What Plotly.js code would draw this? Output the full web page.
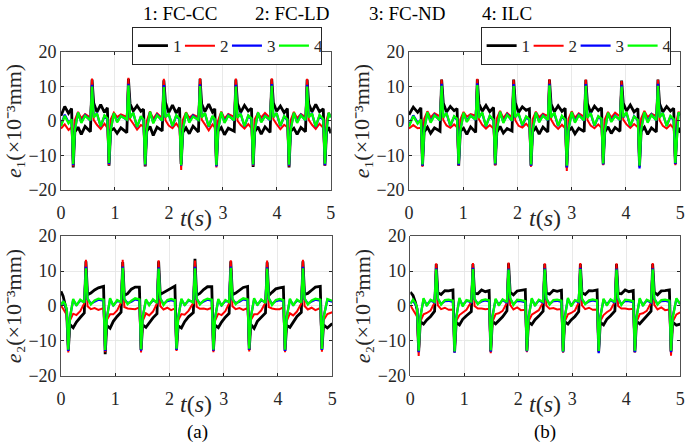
<!DOCTYPE html>
<html>
<head>
<meta charset="utf-8">
<script src="https://cdn.plot.ly/plotly-3.0.1.min.js"></script>
<style>
  html, body { margin: 0; padding: 0; background: #fff; }
  #chart { width: 685px; height: 448px; }
</style>
</head>
<body>
<div id="chart"></div>
<script>
// spike times: a = left column, b = right column
const headA1 = [0, 0.07, 0.14];
const negA1 = [0.227, 0.89, 1.56, 2.227, 2.88, 3.56, 4.225, 4.89];
const posA1 = [0.576, 1.25, 1.906, 2.577, 3.24, 3.905, 4.56];
const tailA1 = [4.92, 4.96, 5.0];

const headB1 = [0, 0.08, 0.16];
const negB1 = [0.25, 0.917, 1.59, 2.25, 2.91, 3.58, 4.25, 4.91];
const posB1 = [0.603, 1.26, 1.93, 2.59, 3.26, 3.92, 4.59];
const tailB1 = [4.94, 4.97, 5.0];

const headA2 = [0, 0.04, 0.075];
const negA2 = [0.135, 0.815, 1.476, 2.13, 2.81, 3.47, 4.13, 4.81];
const posA2 = [0.46, 1.138, 1.8, 2.47, 3.13, 3.80, 4.46];
const tailA2 = [4.84, 4.91, 5.0];

const headB2 = [0, 0.05, 0.095];
const negB2 = [0.155, 0.82, 1.49, 2.16, 2.83, 3.49, 4.16, 4.83];
const posB2 = [0.48, 1.16, 1.82, 2.49, 3.15, 3.82, 4.49];
const tailB2 = [4.86, 4.93, 5.0];

// sample points around each spike (s)
const afterNeg = [0.03, 0.09, 0.15, 0.22];
const afterPos = [0.03, 0.09, 0.16, 0.23];

// values (x10^-3 mm); rows: head, one row per cycle
// [N-.03, N, N+.03, N+.09, N+.15, N+.22, P-.03, P, P+.03, P+.09, P+.16, P+.23], last cycle
const e1aBlack = [
  [1.5, 4.2, 2.2],
  [3.6, -13.5, -3.2, -1.8, -3.9, -1.6, -3.1, 12, 5.2, 2.6, 4.7, 2.5],
  [3.8, -13, -2.8, -2.2, -3.6, -2, -3.4, 12.2, 5, 2.9, 4.4, 2.8],
  [3.4, -13.2, -3, -1.6, -4.2, -1.8, -2.9, 11.8, 5.4, 2.4, 4.6, 2.3],
  [3.9, -12.5, -3.3, -2, -3.7, -1.5, -3.2, 12.2, 4.9, 2.7, 4.9, 2.6],
  [3.5, -13, -2.9, -1.9, -4, -2.1, -3, 12, 5.1, 2.5, 4.5, 2.9],
  [3.7, -13.3, -3.1, -1.7, -3.8, -1.7, -3.3, 12.1, 5.3, 2.8, 4.3, 2.4],
  [3.6, -13.5, -3, -2.1, -3.9, -1.9, -3.1, 12, 5, 2.6, 4.8, 2.7],
  [3.5, -13, -3.1, -1.8, -3.6]
];
const e1aRed = [
  [-2.2, -1, -2.6],
  [-1.8, -13.2, 0.2, 2.6, 0.8, 2, 1, 12.3, 0.3, -1.1, -2.3, -0.8],
  [-2, -12.8, 0.4, 2.4, 1.1, 1.9, 1.2, 12.5, 0.5, -0.8, -2.5, -1.2],
  [-1.6, -13, 0, 2.8, 0.6, 2.2, 0.8, 12.2, 0.2, -1.3, -2.1, -0.7],
  [-2.2, -14.2, 0.3, 2.5, 0.9, 1.8, 1.1, 12.4, 0.4, -1, -2.7, -1],
  [-1.9, -13.5, 0.1, 2.7, 0.7, 2, 1.2, 12.3, 0.1, -1.2, -2.2, -0.9],
  [-2.1, -13, 0.5, 2.3, 1, 2.3, 0.9, 12.4, 0.5, -0.9, -2.4, -1.1],
  [-1.8, -13.2, 0.2, 2.6, 0.8, 2, 1.1, 12.2, 0.3, -1.1, -2.3, -0.8],
  [-2, -13, 0.3, 2.4, 1.3]
];
const e1aBlue = [
  [-1.2, 1.8, -0.4],
  [0.3, -12.8, -2.4, 2.3, -0.3, 1.7, 0.1, 10.5, 1.3, 2.1, -1.6, 1.4],
  [0.5, -12.5, -2.6, 2.1, -0.1, 1.5, 0.3, 10.8, 1.1, 2.3, -1.8, 1.2],
  [0.2, -12.8, -2.3, 2.5, -0.4, 1.8, 0, 10.4, 1.4, 1.9, -1.5, 1.5],
  [0.4, -13, -2.5, 2.2, -0.2, 1.6, 0.2, 10.6, 1.2, 2.2, -1.7, 1.3],
  [0.3, -13.2, -2.4, 2.4, -0.3, 1.7, 0.1, 10.5, 1.3, 2, -1.6, 1.4],
  [0.5, -12.8, -2.6, 2.3, -0.2, 1.5, 0.2, 10.7, 1.2, 2.2, -1.5, 1.3],
  [0.2, -13, -2.3, 2.2, -0.3, 1.8, 0.1, 10.5, 1.4, 2.1, -1.7, 1.5],
  [0.3, -12.8, -2.4, 2.2, 1.1]
];
const e1aGreen = [
  [-1.5, 1.5, -0.7],
  [0.5, -12.5, -2.8, 2.5, -0.6, 1.5, 0.2, 10, 1, 2.2, -1.5, 1.6],
  [0.7, -12.2, -2.9, 2.3, -0.4, 1.4, 0.4, 10.3, 0.9, 2.4, -1.7, 1.4],
  [0.4, -12.6, -2.7, 2.7, -0.7, 1.6, 0.1, 9.8, 1.1, 2, -1.4, 1.7],
  [0.6, -12.8, -2.8, 2.4, -0.5, 1.3, 0.3, 10.1, 1, 2.3, -1.6, 1.5],
  [0.5, -12.8, -2.9, 2.6, -0.6, 1.5, 0.2, 10, 0.9, 2.1, -1.5, 1.6],
  [0.7, -12.6, -2.7, 2.5, -0.4, 1.4, 0.3, 10.2, 1.1, 2.3, -1.4, 1.4],
  [0.4, -12.7, -2.8, 2.4, -0.6, 1.6, 0.2, 10, 1, 2.2, -1.6, 1.7],
  [0.5, -12.4, -2.8, 2.4, 1]
];

const e1bBlack = [
  [1.8, 4, 2.5],
  [3.8, -13, -3.2, -1.8, -3.6, -2, -3, 12, 5.2, 2.6, 4.2, 3],
  [3.6, -13, -3, -2.1, -3.9, -1.7, -3.3, 12.1, 5, 2.8, 4.5, 2.7],
  [3.9, -12.8, -3.3, -1.6, -3.5, -2.2, -2.9, 12, 5.3, 2.5, 4.1, 3.1],
  [3.5, -13, -3.1, -1.9, -3.8, -1.8, -3.2, 12, 4.9, 2.7, 4.4, 2.8],
  [3.7, -13.5, -2.9, -2, -3.7, -2.1, -3.1, 11.9, 5.1, 2.4, 4.3, 3],
  [3.8, -12.6, -3.2, -1.7, -3.6, -1.9, -3, 11.7, 5.2, 2.9, 4.6, 2.6],
  [3.6, -13.2, -3, -1.8, -3.9, -2, -3.2, 12, 5, 2.6, 4.2, 2.9],
  [3.7, -12.5, -3.1, -2, -3.4]
];
const e1bRed = [
  [-2.2, -1.2, -2.1],
  [-2, -13.3, 0.6, 2.8, 1, 2.2, 1.3, 12, 0.3, -1.3, -2, -1],
  [-1.8, -13, 0.4, 2.6, 1.2, 2, 1.5, 12.2, 0.5, -1.1, -2.2, -1.2],
  [-2.2, -12.9, 0.7, 2.9, 0.8, 2.3, 1.1, 11.9, 0.2, -1.4, -1.9, -0.8],
  [-1.9, -13.3, 0.5, 2.7, 1.1, 2.1, 1.4, 12.1, 0.4, -1.2, -2.3, -1.1],
  [-2.1, -14.5, 0.6, 2.8, 0.9, 2.2, 1.2, 12, 0.3, -1.3, -2.1, -1],
  [-2, -12.8, 0.4, 2.6, 1, 2.4, 1.3, 11.6, 0.4, -1, -2, -0.9],
  [-1.8, -13.2, 0.7, 2.9, 1.1, 2.1, 1.4, 11.9, 0.2, -1.4, -2.2, -1.1],
  [-2.1, -12.8, 0.5, 2.7, 1.8]
];
const e1bBlue = [
  [-1.3, 1.6, -0.5],
  [0.2, -13, -2.4, 2.4, -0.2, 1.8, 0.1, 10.8, 1.3, 2.1, -1.4, 1.2],
  [0.4, -12.8, -2.6, 2.2, 0, 1.6, 0.3, 10.9, 1.1, 2.3, -1.6, 1.4],
  [0.1, -12.6, -2.3, 2.5, -0.3, 1.9, 0, 10.7, 1.4, 2, -1.3, 1.1],
  [0.3, -13, -2.5, 2.3, -0.1, 1.7, 0.2, 10.8, 1.2, 2.2, -1.5, 1.3],
  [0.2, -13.5, -2.4, 2.4, -0.2, 1.8, 0.1, 10.7, 1.3, 2.1, -1.4, 1.2],
  [0.4, -12.6, -2.6, 2.2, 0, 1.6, 0.2, 10.5, 1.1, 2.3, -1.5, 1.4],
  [0.1, -13.8, -2.3, 2.5, -0.2, 1.9, 0.1, 10.8, 1.3, 2.1, -1.4, 1.2],
  [0.3, -12.5, -2.5, 2.3, 1.6]
];
const e1bGreen = [
  [-1.6, 1.4, -0.8],
  [0.4, -12.6, -2.8, 2.6, -0.5, 1.6, 0.2, 10.2, 1, 2.3, -1.3, 1.4],
  [0.6, -12.4, -3, 2.4, -0.3, 1.5, 0.4, 10.4, 0.9, 2.5, -1.5, 1.5],
  [0.3, -12.3, -2.7, 2.7, -0.6, 1.7, 0.1, 10.1, 1.1, 2.2, -1.2, 1.3],
  [0.5, -12.6, -2.9, 2.5, -0.4, 1.5, 0.3, 10.3, 1, 2.4, -1.4, 1.5],
  [0.4, -13, -2.8, 2.6, -0.5, 1.6, 0.2, 10.2, 0.9, 2.3, -1.3, 1.4],
  [0.6, -12.3, -2.9, 2.4, -0.3, 1.4, 0.3, 10, 1.1, 2.5, -1.4, 1.3],
  [0.3, -13, -2.7, 2.6, -0.5, 1.7, 0.2, 10.2, 1, 2.3, -1.5, 1.5],
  [0.5, -12.2, -2.8, 2.5, 1.8]
];

const e2aBlack = [
  [4.2, 2.8, 0.5],
  [-1.5, -12.8, -5.3, -6.2, -4.6, -3.3, -2, 12.8, 3.2, 3.7, 4.6, 5.2],
  [5.6, -13.8, -5.6, -6.4, -4.4, -3, -1.8, 12.6, 3, 3.5, 4.8, 5.4],
  [5.4, -12.6, -5.4, -6.1, -4.7, -3.4, -2.2, 12.8, 3.3, 3.8, 4.5, 5.1],
  [5.7, -12.5, -5.7, -6.3, -4.5, -3.1, -1.9, 13.5, 3.1, 3.6, 4.7, 5.5],
  [5.5, -12.8, -5.5, -6.2, -4.6, -3.2, -2.1, 12.8, 3.2, 3.7, 4.6, 5.3],
  [5.6, -12.6, -5.3, -6.4, -4.4, -3.3, -2, 12.5, 3, 3.9, 4.9, 5.2],
  [5.4, -12.8, -5.6, -6.1, -4.7, -3, -1.8, 12.8, 3.3, 3.6, 4.5, 5.4],
  [5.6, -12.5, -5.4, -6.3, -5]
];
const e2aRed = [
  [0.2, -0.8, -1.8],
  [-2.5, -13.3, -4.2, -2.2, -2.6, -1.5, 0.8, 13.2, -0.1, -0.9, -0.6, -1.1],
  [-0.6, -13.2, -4, -2.4, -2.4, -1.3, 1, 13.2, -0.3, -0.7, -0.8, -0.9],
  [-0.4, -13.3, -4.3, -2.1, -2.7, -1.6, 0.7, 13.1, 0, -1, -0.5, -1.2],
  [-0.7, -12.9, -4.1, -2.3, -2.5, -1.4, 0.9, 13, -0.2, -0.8, -0.7, -1],
  [-0.5, -13.2, -4.2, -2.2, -2.6, -1.5, 0.8, 13.1, -0.1, -0.9, -0.6, -1.1],
  [-0.6, -13, -4, -2.4, -2.4, -1.3, 1, 13, -0.3, -0.7, -0.9, -0.9],
  [-0.4, -13.2, -4.3, -2.1, -2.7, -1.6, 0.7, 13.2, 0, -1, -0.5, -1.2],
  [-0.6, -13.1, -4.1, -2.3, -1.8]
];
const e2aBlue = [
  [0.3, 1.2, 0.3],
  [-1, -12.9, -3.2, 1.7, 0.3, 1.5, 1.2, 11.2, 2, 0.7, 1.3, 1.8],
  [1.5, -12.9, -3.3, 1.9, 0.2, 1.4, 1.3, 11.3, 1.9, 0.8, 1.2, 1.9],
  [1.6, -12.8, -3.1, 1.6, 0.4, 1.6, 1.1, 11.1, 2.1, 0.6, 1.4, 1.7],
  [1.4, -12.6, -3.2, 1.8, 0.3, 1.5, 1.2, 11.2, 2, 0.7, 1.3, 1.8],
  [1.5, -12.8, -3.3, 1.7, 0.2, 1.4, 1.3, 11.3, 1.9, 0.8, 1.2, 1.9],
  [1.6, -12.5, -3.1, 1.9, 0.4, 1.6, 1.1, 11.1, 2.1, 0.6, 1.4, 1.7],
  [1.4, -12.9, -3.2, 1.8, 0.3, 1.5, 1.2, 11.2, 2, 0.7, 1.3, 1.8],
  [1.5, -12.6, -3.2, 1.7, 1.2]
];
const e2aGreen = [
  [0, 1.4, 0.6],
  [-0.8, -12.5, -3.5, 2, 0.1, 1.8, 1, 10.8, 2.2, 0.4, 1.6, 2.1],
  [1.8, -12.6, -3.6, 2.2, 0, 1.7, 1.1, 10.9, 2.1, 0.5, 1.5, 2.2],
  [1.9, -12.4, -3.4, 1.9, 0.2, 1.9, 0.9, 10.7, 2.3, 0.3, 1.7, 2],
  [1.7, -12.2, -3.5, 2.1, 0.1, 1.8, 1, 10.8, 2.2, 0.4, 1.6, 2.1],
  [1.8, -12.5, -3.6, 2, 0, 1.7, 1.1, 10.9, 2.1, 0.5, 1.5, 2.2],
  [1.9, -12.2, -3.4, 2.2, 0.2, 1.9, 0.9, 10.7, 2.3, 0.3, 1.7, 2],
  [1.7, -12.5, -3.5, 2.1, 0.1, 1.8, 1, 10.8, 2.2, 0.4, 1.6, 2.1],
  [1.8, -12.3, -3.5, 2, 1.5]
];

const e2bBlack = [
  [4, 3, 1],
  [-1, -13, -4.5, -5.2, -4, -3, -1.5, 12, 3.8, 3.3, 4.4, 4.3],
  [4.6, -13.2, -4.7, -5.4, -3.8, -2.8, -1.6, 12, 3.6, 3.5, 4.6, 4.1],
  [4.4, -13, -4.4, -5.1, -4.1, -3.1, -1.4, 12.2, 3.9, 3.2, 4.3, 4.4],
  [4.7, -12.8, -4.6, -5.3, -3.9, -2.9, -1.5, 12, 3.7, 3.4, 4.5, 4.2],
  [4.5, -13, -4.5, -5.2, -4, -3, -1.6, 12, 3.8, 3.3, 4.4, 4.3],
  [4.6, -13, -4.7, -5.4, -3.8, -2.8, -1.4, 12, 3.6, 3.5, 4.6, 4.1],
  [4.4, -13.2, -4.4, -5.1, -4.1, -3.1, -1.5, 12, 3.9, 3.2, 4.3, 4.4],
  [4.6, -13, -4.6, -5.5, -5.2]
];
const e2bRed = [
  [0.2, -1, -2],
  [-3, -14.3, -4.5, -2.4, -2, -1.3, 1, 12.2, 0.2, -0.9, -0.5, -1.1],
  [-1, -13.3, -4.3, -2.6, -1.8, -1.1, 1.2, 12.3, 0, -0.7, -0.7, -0.9],
  [-0.8, -13.5, -4.6, -2.3, -2.1, -1.4, 0.9, 12.4, 0.3, -1, -0.4, -1.2],
  [-1.1, -13.2, -4.4, -2.5, -1.9, -1.2, 1.1, 12.2, 0.1, -0.8, -0.6, -1],
  [-0.9, -13.4, -4.5, -2.4, -2, -1.3, 1, 12.3, 0.2, -0.9, -0.5, -1.1],
  [-1, -13.2, -4.3, -2.6, -1.8, -1.1, 1.2, 12.2, 0, -0.7, -0.7, -0.9],
  [-0.8, -13.3, -4.6, -2.3, -2.1, -1.4, 0.9, 12.3, 0.3, -1, -0.4, -1.2],
  [-1, -14.2, -4.5, -2.4, -1.8]
];
const e2bBlue = [
  [0.8, 1.5, 0.5],
  [-0.7, -13.2, -3.1, 1.9, 0.3, 1.6, 1, 10.8, 2, 0.6, 1.4, 1.5],
  [1.2, -13.4, -3.2, 2, 0.2, 1.5, 1.1, 10.9, 1.9, 0.7, 1.3, 1.6],
  [1.3, -13.1, -3, 1.8, 0.4, 1.7, 0.9, 10.7, 2.1, 0.5, 1.5, 1.4],
  [1.1, -13, -3.1, 1.9, 0.3, 1.6, 1, 10.8, 2, 0.6, 1.4, 1.5],
  [1.2, -13.2, -3.2, 2, 0.2, 1.5, 1.1, 10.9, 1.9, 0.7, 1.3, 1.6],
  [1.3, -13.5, -3, 1.8, 0.4, 1.7, 0.9, 10.7, 2.1, 0.5, 1.5, 1.4],
  [1.1, -13.2, -3.1, 1.9, 0.3, 1.6, 1, 10.8, 2, 0.6, 1.4, 1.5],
  [1.2, -13.2, -3.1, 1.9, 0.6]
];
const e2bGreen = [
  [0.5, 1.8, 0.8],
  [-0.5, -12.8, -3.5, 2.2, 0, 1.8, 1.2, 10.5, 2.2, 0.4, 1.7, 1.8],
  [1.5, -13, -3.6, 2.3, -0.1, 1.7, 1.3, 10.6, 2.1, 0.5, 1.6, 1.9],
  [1.6, -12.7, -3.4, 2.1, 0.1, 1.9, 1.1, 10.4, 2.3, 0.3, 1.8, 1.7],
  [1.4, -12.8, -3.5, 2.2, 0, 1.8, 1.2, 10.5, 2.2, 0.4, 1.7, 1.8],
  [1.5, -13, -3.6, 2.3, -0.1, 1.7, 1.3, 10.6, 2.1, 0.5, 1.6, 1.9],
  [1.6, -12.9, -3.4, 2.1, 0.1, 1.9, 1.1, 10.4, 2.3, 0.3, 1.8, 1.7],
  [1.4, -12.8, -3.5, 2.2, 0, 1.8, 1.2, 10.5, 2.2, 0.4, 1.7, 1.8],
  [1.5, -12.8, -3.5, 2.2, 0.5]
];

const seriesNames = ['1', '2', '3', '4'];
const methodLabels = ['1: FC-CC', '2: FC-LD', '3: FC-ND', '4: ILC'];
const panelLabels = ['(a)', '(b)'];
const yTitles = ['<i>e</i>₁(×10⁻³mm)', '<i>e</i>₂(×10⁻³mm)'];
const xTicks = [0, 1, 2, 3, 4, 5];
const yTicks = [-20, -10, 0, 10, 20];

const colors = ['#000000', '#ff0000', '#0000ff', '#00ff00'];
const widths = [2.8, 2, 2.3, 2.3];
const FONT = 'Liberation Serif';

function buildTime(head, negT, posT, tail) {
    const t = head.slice();
    negT.forEach((n, k) => {
        t.push(n - 0.03, n);
        if (k < posT.length) {
            afterNeg.forEach(d => t.push(n + d));
            const p = posT[k];
            t.push(p - 0.03, p);
            afterPos.forEach(d => t.push(p + d));
        }
    });
    return t.concat(tail);
}

const panels = [
    { t: buildTime(headA1, negA1, posA1, tailA1), ys: [e1aBlack, e1aRed, e1aBlue, e1aGreen], n: '', legend: 'legend' },
    { t: buildTime(headB1, negB1, posB1, tailB1), ys: [e1bBlack, e1bRed, e1bBlue, e1bGreen], n: '2', legend: 'legend2' },
    { t: buildTime(headA2, negA2, posA2, tailA2), ys: [e2aBlack, e2aRed, e2aBlue, e2aGreen], n: '3', legend: null },
    { t: buildTime(headB2, negB2, posB2, tailB2), ys: [e2bBlack, e2bRed, e2bBlue, e2bGreen], n: '4', legend: null }
];

let traces = [];
panels.forEach(p => {
    p.ys.forEach((rows, i) => {
        traces.push({
            x: p.t, y: rows.flat(), type: 'scatter', mode: 'lines', name: seriesNames[i],
            xaxis: 'x' + p.n, yaxis: 'y' + p.n,
            line: { color: colors[i], width: widths[i] },
            showlegend: !!p.legend, legend: p.legend || 'legend', hoverinfo: 'skip'
        });
    });
});

const axisBase = {
    showline: true, mirror: 'ticks', linecolor: '#262626', linewidth: 0.8,
    ticks: 'inside', ticklen: 3, tickcolor: '#262626',
    showgrid: true, gridcolor: '#e3e3e3', gridwidth: 0.8, zeroline: false,
    tickfont: { family: FONT, size: 18, color: '#262626' }
};
function xAxis(domain, anchor) {
    return Object.assign({}, axisBase, {
        domain: domain, anchor: anchor, range: [0, 5], tickmode: 'array', tickvals: xTicks,
        ticklabelstandoff: 7
    });
}
function yAxis(domain, anchor, title) {
    return Object.assign({}, axisBase, {
        domain: domain, anchor: anchor, range: [-20, 20], tickmode: 'array', tickvals: yTicks,
        title: { text: title, font: { family: FONT, size: 22, color: '#262626' }, standoff: 0 }
    });
}

const legendBase = {
    orientation: 'h', xanchor: 'right', yanchor: 'middle', y: 0.897,
    bgcolor: '#ffffff', bordercolor: '#262626', borderwidth: 1,
    font: { family: FONT, size: 17, color: '#262626' }, itemwidth: 30, entrywidth: 2
};

const textFont = { family: FONT, size: 19, color: '#000000' };
const headerX = [0.2628, 0.4263, 0.5942, 0.7401];
let annotations = methodLabels.map((txt, i) => ({
    text: txt, xref: 'paper', yref: 'paper', x: headerX[i], y: 0.969,
    xanchor: 'center', yanchor: 'middle', showarrow: false, font: textFont
}));
// t(s) labels sit in the tick-label row, between ticks 2 and 3
const tTitleX = [0.2861, 0.7949, 0.2868, 0.7956];
const tTitleY = [0.513, 0.513, 0.098, 0.098];
tTitleX.forEach((x, i) => annotations.push({
    text: '<i>t</i>(<i>s</i>)', xref: 'paper', yref: 'paper', x: x, y: tTitleY[i],
    xanchor: 'center', yanchor: 'middle', showarrow: false,
    font: { family: FONT, size: 24, color: '#262626' }
}));
const panelLabelX = [0.289, 0.7956];
panelLabels.forEach((txt, i) => annotations.push({
    text: txt, xref: 'paper', yref: 'paper', x: panelLabelX[i], y: 0.036,
    xanchor: 'center', yanchor: 'middle', showarrow: false, font: textFont
}));

const layout = {
    width: 685, height: 448,
    paper_bgcolor: '#ffffff', plot_bgcolor: '#ffffff',
    margin: { l: 0, r: 0, t: 0, b: 0 },
    font: { family: FONT, color: '#262626' },
    xaxis: xAxis([0.089, 0.483], 'y'),
    yaxis: yAxis([0.576, 0.884], 'x', yTitles[0]),
    xaxis2: xAxis([0.597, 0.993], 'y2'),
    yaxis2: yAxis([0.576, 0.884], 'x2', yTitles[0]),
    xaxis3: xAxis([0.089, 0.485], 'y3'),
    yaxis3: yAxis([0.161, 0.473], 'x3', yTitles[1]),
    xaxis4: xAxis([0.599, 0.993], 'y4'),
    yaxis4: yAxis([0.161, 0.473], 'x4', yTitles[1]),
    legend: Object.assign({}, legendBase, { x: 0.47 }),
    legend2: Object.assign({}, legendBase, { x: 0.979 }),
    annotations: annotations
};

Plotly.newPlot('chart', traces, layout, { displayModeBar: false, staticPlot: true });
</script>
</body>
</html>
